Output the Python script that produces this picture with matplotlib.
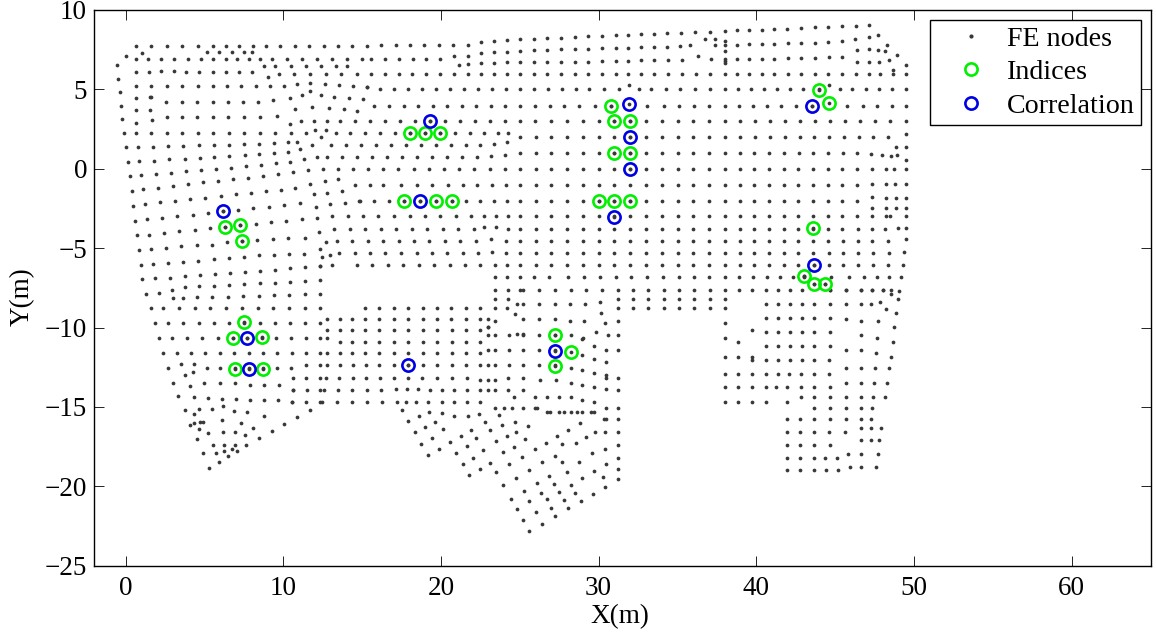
# -*- coding: utf-8 -*-
import matplotlib
matplotlib.use("Agg")
import matplotlib.pyplot as plt
from matplotlib.lines import Line2D

plt.rcParams["font.family"] = ["Liberation Serif", "DejaVu Serif"]
plt.rcParams["font.size"] = 19.5

# x columns that repeat in the regular part of the mesh
mid_cols = [25.02, 26.01, 27.0, 28.0, 29.0, 30.0, 31.0, 32.0]
right_cols = [33.0, 34.0, 35.01, 36.01, 37.0, 37.99, 38.94, 39.87, 40.8, 41.73, 42.66]
south_cols = [41.37, 42.14, 42.9, 43.66]

# rows of the mesh: (y, [x, ...])
rows_top = [
    (7.71, [0.64, 1.62, 2.61, 3.58, 4.58, 5.55, 6.37, 7.22, 8.07, 8.91, 9.82, 10.73, 11.64, 12.57, 13.48, 14.39, 15.3]),
    (7.79, [16.22, 17.13, 18.04, 18.95, 19.88, 20.79, 21.7]),
    (7.33, [5.17, 5.95, 6.75, 7.52, 8.04]),
    (6.93, [0.64, 1.43, 2.25, 3.1, 3.94, 4.77, 5.55, 6.35, 7.07, 7.81, 8.53, 9.29, 10.24, 11.2, 12.15, 13.12, 14.05, 15.02, 15.59, 16.46, 17.32, 18.21, 19.08, 19.96]),
    (7.11, [20.83, 21.7]),
    (6.45, [8.76, 9.48, 10.48, 11.45, 12.42, 13.35, 14.03]),
    (6.07, [0.64, 1.49, 3.84, 4.68, 5.55, 6.37, 7.22, 8.04]),
    (6.16, [2.25, 3.07]),
    (5.99, [9.72, 10.71, 11.7, 12.7, 13.69, 14.68, 15.57, 16.43, 17.32, 18.19, 19.08, 19.94, 20.83, 21.7, 22.52, 23.37, 24.17, 25.02, 25.88, 26.75, 27.62, 28.48, 29.35, 30.22, 31.08, 31.89, 32.69, 33.49, 34.4, 35.31, 36.2, 37.08, 37.99, 38.78, 39.56, 40.34, 41.1, 41.99, 42.85, 43.72, 44.57, 45.43, 46.3, 47.15, 47.86, 48.69, 49.47]),
    (5.23, [0.64, 1.62, 2.61, 3.58, 4.58, 5.55, 6.46, 7.35, 8.26, 9.16, 10.05, 14.41]),
    (5.0, [16.14, 17.0, 17.89, 18.8, 19.69, 20.6, 21.49, 22.37, 23.24, 24.13, 24.99, 25.9, 26.79, 27.66, 28.55, 29.41, 30.32, 31.29, 32.54, 33.34, 34.25, 35.18, 36.11, 37.04, 37.99, 38.84, 39.64, 40.49, 41.31, 42.16, 42.98, 43.95, 45.29, 46.09, 46.93, 47.78, 48.63, 49.47]),
    (4.2, [2.57, 3.58, 4.56, 5.53, 6.48, 7.43, 8.4]),
    (3.97, [15.74, 16.69, 17.64, 18.57, 19.48, 20.41, 21.32, 22.25, 23.16, 24.09, 25.02, 25.95, 26.9, 27.83, 28.78, 29.75, 30.76, 33.09, 34.12, 35.1, 36.05, 37.02, 37.99, 38.9, 39.79, 40.68, 41.59, 42.52, 43.51, 45.77, 46.74, 47.67, 48.58, 49.49]),
    (3.24, [2.65, 3.58, 4.56, 5.55, 6.5, 7.49, 8.53]),
    (2.98, [11.11, 11.94, 12.76, 13.58, 14.53, 15.5, 16.46, 17.41, 18.36, 19.29, 20.26, 21.21, 22.16, 23.11, 24.06, 25.02, 25.99, 27.0, 27.97, 28.99, 30.0, 31.0, 32.0, 33.0, 34.0, 35.01, 36.01, 37.0, 37.99, 38.97, 39.92, 40.87, 41.82, 42.77, 43.72, 44.69, 45.64, 46.6, 47.55, 48.5, 49.47]),
    (2.23, [0.64, 1.64, 2.61, 3.58, 4.58, 5.55, 6.54, 7.51, 8.51, 9.48, 10.48, 11.45, 13.33, 14.26, 15.21, 16.16, 17.09, 18.04, 18.99, 19.94, 20.89, 21.82, 22.75]),
    (2.0, mid_cols + [33.0, 34.0, 35.01, 36.01, 37.0, 37.99, 38.94, 39.9, 40.85, 41.8, 42.75, 43.68, 44.63, 45.56, 46.49, 47.42, 48.37]),
    (1.49, [14.93, 15.88, 16.84, 17.79, 18.72, 19.67, 20.62, 21.57, 22.48, 11.81, 13.05, 14.0]),
    (0.99, mid_cols + [33.0, 34.0, 35.01, 36.01, 37.0, 37.99, 38.94, 39.87, 40.83, 41.76, 42.69, 43.62, 44.55, 45.48, 46.41]),
    (0.76, [12.15, 12.78, 13.73, 14.68, 15.63, 16.58, 17.53, 18.48, 19.44, 20.39, 21.34, 22.27]),
    (-0.02, [12.51, 13.46, 14.43, 15.38, 16.35, 17.3, 18.27, 19.22, 20.2, 21.15, 22.12, 23.09, 24.04] + mid_cols + right_cols + [43.59, 44.52, 45.45, 46.38, 47.31, 48.24, 48.71, 49.49]),
    (-1.0, [14.58, 15.53, 16.35, 17.45, 18.46, 19.46, 20.43, 21.38, 22.29, 23.22, 24.11] + mid_cols + right_cols + [43.59, 44.52, 45.45, 46.38]),
    (-0.93, [47.31, 48.24, 48.77, 49.49]),
    (-2.02, [14.87, 15.78, 16.73, 17.68, 18.7, 19.69, 20.68, 21.61, 22.48, 23.35, 24.17] + mid_cols + right_cols + [43.59, 44.52, 45.45, 46.4]),
    (-3.0, [13.1, 14.09, 15.06, 16.03, 17.03, 18.02, 18.99, 19.96, 20.96, 21.93, 22.71, 23.47, 24.23] + mid_cols + right_cols + [43.59, 44.52, 45.45, 46.38, 47.31, 48.24, 48.5, 49.49]),
    (-3.77, [14.24, 15.21, 16.2, 17.17, 18.17, 19.14, 20.11, 21.11, 22.08, 24.23] + mid_cols + right_cols + [43.59, 44.52, 45.45, 46.42, 47.34]),
    (-4.52, [13.41, 14.39, 15.36, 16.35, 17.32, 18.29, 19.27, 20.26, 21.23, 22.2, 24.11] + mid_cols + right_cols + [43.62, 44.57, 45.52, 46.44, 47.36, 48.37]),
    (-5.29, [13.56, 14.53, 15.5, 16.48, 17.47, 18.46, 19.44, 20.41, 21.38, 22.35, 24.11] + mid_cols + right_cols + [43.62, 44.59, 45.52, 46.44, 47.4, 48.39]),
    (-6.05, [14.68, 15.65, 16.65, 17.62, 18.61, 19.58, 20.56, 21.53, 22.5, 23.43, 24.21] + mid_cols + right_cols + [43.64, 44.59, 45.52, 46.45, 47.38, 48.35, 49.28]),
    (-6.82, [23.43, 24.21, 25.02, 25.88, 26.88, 28.04, 29.07, 30.09, 31.12, 32.05, 33.09, 34.08, 35.08, 36.03, 37.02, 37.99, 38.9, 39.79, 40.66, 41.5, 42.3, 43.0, 44.76, 45.88, 46.83, 47.67, 48.43, 49.17]),
]

rows_lower = [
    (-7.62, [23.45, 24.23, 25.0, 25.21, 26.22, 27.21, 28.23, 29.22, 30.22, 31.23, 32.18, 33.15, 34.12, 35.1, 36.07, 37.04, 37.99, 38.88, 39.75, 40.61, 41.37, 42.14, 42.9, 44.67, 45.67, 46.66, 47.34, 48.01, 48.54]),
    (-8.19, [23.45, 24.23, 31.23, 32.18, 33.15, 34.12, 35.1, 36.07, 37.04, 37.99]),
    (-8.75, [31.23, 32.18, 33.15, 34.12, 35.1, 36.07, 37.04, 37.99]),
    (-8.8, [1.6, 2.4, 3.39, 4.39, 5.38, 6.37, 7.39, 8.38, 9.38, 10.37, 11.36, 12.36, 15.19, 16.1, 17.01, 17.94, 18.84, 19.75, 20.66, 21.59, 22.5, 23.45, 24.19]),
    (-8.5, [24.8, 25.21, 26.22, 27.21, 28.21, 29.14, 40.61, 41.37, 42.14, 42.9, 43.66, 44.67, 45.69, 46.66, 47.27]),
    (-9.38, south_cols + [40.61, 44.67]),
    (-9.49, [12.8, 13.6, 14.39, 15.19, 16.1, 17.01, 17.94, 18.84, 19.75, 20.66, 21.57, 22.48, 22.97, 25.21, 26.22, 27.21, 45.69]),
    (-9.57, [28.21, 29.1, 31.23, 23.45, 46.66, 47.69]),
    (-9.72, [1.85, 2.67, 3.65, 4.64, 5.61, 6.59, 7.54, 8.53, 9.46, 10.43, 11.4, 12.36, 30.43, 37.99]),
    (-10.16, [12.8, 13.6, 14.39, 15.19, 16.1, 17.01, 17.94, 18.84, 19.75, 20.68, 21.59, 22.5, 39.75]),
    (-10.27, south_cols + [40.61, 44.67]),
    (-10.5, [22.99, 23.45, 24.34, 25.21, 26.22, 27.21, 28.23, 30.58, 31.23, 46.66]),
    (-10.68, [2.1, 2.97, 3.92, 4.87, 5.85, 6.8, 7.71, 8.64, 9.55, 10.5, 11.43, 12.36, 12.8, 28.99, 37.99, 47.65]),
    (-10.88, [13.6, 14.39, 15.19, 16.1, 17.01, 17.94, 18.84, 19.75, 20.68, 21.59, 22.5, 38.86, 48.65]),
    (-11.15, south_cols + [40.61, 44.67, 29.69]),
    (-11.44, [22.99, 23.45, 24.34, 25.21, 26.22, 27.21, 31.23, 30.47, 45.67, 46.66]),
    (-11.59, [2.36, 3.25, 4.15, 5.06, 5.99, 6.88, 7.81, 8.72, 9.63, 10.54, 11.45, 12.36, 12.8, 13.6, 14.39, 15.19, 16.1, 17.01, 17.94, 18.84, 19.75, 20.68, 21.59, 47.59, 22.5]),
    (-11.84, [37.99, 38.86, 39.73, 48.52]),
    (-12.03, south_cols + [39.73, 40.61, 44.59]),
    (-12.36, [11.45, 12.36, 12.8, 13.6, 14.41, 15.27, 16.1, 17.01, 17.94, 18.84, 19.75, 20.68, 21.59, 22.5, 22.99, 23.45, 24.34, 25.21, 26.22, 27.21]),
    (-12.56, [2.7, 5.19, 6.01, 6.92, 7.83, 8.74, 9.61, 10.52, 28.23, 45.67, 46.66, 47.53, 48.41]),
    (-12.9, [40.61, 41.35, 42.09, 42.85, 43.66, 44.59, 38.86, 39.73, 37.99]),
    (-13.17, [16.12, 17.01, 17.89, 18.78, 19.73, 20.73, 21.63, 24.26, 25.21, 31.23, 10.62, 11.45, 12.36, 12.72, 13.54, 14.41, 15.27, 30.47]),
    (-13.33, [22.5, 22.99, 23.45, 26.28, 27.3]),
    (-13.5, [28.23, 45.69, 46.66, 47.46, 48.29, 6.01, 6.97, 4.98, 3.03]),
    (-13.59, [7.88, 8.79, 9.71, 28.97]),
    (-13.76, [37.99, 38.86, 39.73, 40.61, 41.25, 41.92, 42.81, 43.66, 44.67, 29.71]),
    (-13.86, [17.13, 17.85, 18.55, 30.47]),
    (-13.96, [10.6, 11.49, 12.36, 12.61, 13.48, 14.39, 15.32, 16.22, 19.29, 20.07, 20.81, 21.66, 22.5, 22.99, 23.45, 24.26, 25.23, 31.23]),
    (-14.36, [42.85, 43.66, 44.69, 45.69, 46.66, 47.42, 48.18, 25.95, 26.73, 27.51, 24.64, 28.23]),
    (-14.56, [7.92, 8.79, 9.69, 28.97]),
    (-14.7, [10.58, 11.47, 12.36, 12.49, 13.44, 14.39, 15.34, 16.27, 17.22, 17.81, 18.4, 19.2, 20.05, 20.85, 21.68, 22.5, 37.99, 38.86, 39.75, 40.61, 41.92, 29.71]),
    (-15.07, [43.66, 44.67, 45.67, 46.66, 47.34, 23.45, 24.0, 24.53, 25.23, 25.97, 26.09, 31.23, 30.47]),
    (-15.35, [26.73, 26.94, 27.47, 27.81, 28.23, 28.65, 28.97, 29.52, 29.73]),
    (-15.75, [30.36, 30.49, 31.23]),
    (-15.79, [41.92, 42.79, 43.66, 44.67, 45.67, 46.66, 47.29]),
    (-16.3, [46.66, 47.29, 47.93]),
    (-16.59, [41.92, 42.79, 43.66, 44.61, 45.62, 31.23, 30.41, 29.75]),
    (-17.1, [46.66, 47.25, 47.8]),
    (-17.39, [41.92, 42.79, 43.66, 44.67, 31.23]),
    (-18.19, [41.92, 42.79, 43.66, 44.36, 45.14]),
    (-17.94, [45.79, 46.66, 47.69]),
    (-18.95, [41.92, 42.79, 43.66, 44.42, 45.16]),
    (-18.8, [45.92, 46.66, 47.59]),
]

# nodes along the curved left part of the mesh
left_x = [-0.54, -0.48, -0.37, -0.29, -0.2, -0.12, 0.01, 0.14, 0.26, 0.39, 0.5, 0.62, 0.73, 0.86, 0.96, 1.07, 1.05, 0.03,
          0.64, 1.57, 0.64, 1.56, 0.64, 1.68, 0.77, 1.74, 2.7, 3.67, 4.64, 5.59, 6.54, 7.51, 8.47, 9.42, 10.28, 10.9, 11.07,
          0.88, 1.83, 2.78, 3.75, 4.7, 5.63, 6.59, 7.56, 8.49, 9.42, 10.28, 10.43, 11.3,
          0.98, 1.93, 2.89, 3.84, 4.79, 5.74, 6.69, 7.64, 8.59, 9.52, 9.65, 10.6, 11.55,
          1.11, 2.06, 3.01, 3.94, 4.92, 5.87, 6.82, 7.77, 8.72, 8.89, 9.84, 10.77, 11.68, 12.65, 13.48,
          1.24, 2.19, 3.14, 4.11, 5.06, 6.04, 6.99, 7.94, 11.93, 12.8, 13.73, 14.83,
          1.34, 2.32, 3.29, 4.26, 5.21, 6.18, 7.14, 8.11, 9.08, 10.05, 11.07, 12.1, 12.97, 13.94,
          1.47, 2.44, 3.41, 4.39, 5.36, 6.31, 7.28, 8.26, 9.23, 10.2, 11.17, 12.15, 12.27, 13.25,
          1.6, 2.57, 3.54, 4.53, 5.49, 6.44, 7.41, 8.36, 9.33, 10.33, 11.38, 12.36, 12.7,
          1.72, 2.67, 3.65, 4.62, 5.59, 6.54, 7.49, 8.45, 9.4, 10.37, 11.34, 12.48, 12.99,
          1.85, 2.8, 3.75, 4.7, 5.66, 6.61, 7.56, 8.53, 9.48, 10.45, 11.4, 12.36, 13.1,
          2.93, 3.77, 4.66, 5.59, 6.56, 7.51, 8.51, 9.46, 10.43, 11.38, 12.36,
          1.32, 2.12, 3.03, 3.65, 4.56, 5.51, 6.48, 7.45, 8.45, 9.42, 10.39, 11.38, 12.36]
left_y = [6.51, 5.65, 4.81, 3.95, 3.11, 2.25, 1.34, 0.44, -0.46, -1.39, -2.33, -3.26, -4.18, -5.1, -6.07, -6.95, 7.31, 7.12,
          4.45, 4.5, 3.68, 3.72, 2.88, 3.05, 1.37, 1.39, 1.43, 1.45, 1.47, 1.49, 1.51, 1.55, 1.58, 1.62, 1.66, 1.7, 1.24,
          0.48, 0.52, 0.59, 0.63, 0.69, 0.76, 0.82, 0.88, 0.92, 0.99, 1.07, 0.44, 0.59,
          -0.42, -0.31, -0.25, -0.17, -0.08, 0.0, 0.08, 0.17, 0.25, 0.34, -0.31, -0.23, -0.1,
          -1.3, -1.2, -1.07, -0.97, -0.86, -0.76, -0.65, -0.55, -0.44, -1.41, -1.32, -1.18, -0.95, -0.78, -0.65,
          -2.25, -2.12, -2.04, -1.93, -1.83, -1.72, -1.62, -1.51, -1.62, -1.51, -1.41, -2.06,
          -3.19, -3.09, -2.98, -2.9, -2.79, -2.69, -2.6, -2.5, -2.39, -2.29, -2.18, -2.39, -2.25, -2.16,
          -4.14, -4.03, -3.93, -3.84, -3.76, -3.68, -3.57, -3.49, -3.38, -3.28, -3.19, -3.11, -3.97, -3.78,
          -5.06, -4.98, -4.89, -4.83, -4.77, -4.64, -4.56, -4.47, -4.41, -4.35, -4.37, -5.04, -4.62,
          -6.0, -5.92, -5.86, -5.78, -5.71, -5.61, -5.53, -5.46, -5.4, -5.34, -5.34, -5.55, -5.4,
          -6.91, -6.85, -6.78, -6.72, -6.64, -6.58, -6.49, -6.43, -6.37, -6.28, -6.2, -6.13, -6.09,
          -7.62, -7.47, -7.41, -7.37, -7.33, -7.28, -7.22, -7.18, -7.12, -7.05, -7.01,
          -7.91, -7.85, -8.14, -8.14, -8.1, -8.08, -8.06, -8.02, -8.0, -7.98, -7.96, -7.91, -7.89]

# nodes that follow the sloped top edge
slope_x = [22.54, 23.37, 24.17, 25.02, 25.88, 26.75, 27.62, 28.48, 29.35, 30.22, 31.08, 31.89,
           22.54, 23.37, 24.19, 25.02, 25.88, 26.75, 27.62, 28.48, 29.35, 30.22, 31.08, 31.89,
           21.15, 21.7, 22.54, 23.37, 24.19, 25.02, 25.88, 26.75, 27.62, 28.48, 29.35, 30.22, 31.08, 31.89,
           32.69, 33.49, 34.36, 35.22, 36.09, 37.04, 37.99, 38.78, 39.54, 40.34, 41.1, 41.97, 42.83, 43.7, 44.57, 45.43, 46.3, 47.17,
           32.69, 33.49, 34.36, 35.18, 35.79, 36.72, 37.36, 37.36, 37.99, 37.99, 37.99, 38.78, 39.56, 40.34, 41.1, 41.99, 42.85, 43.7, 44.57, 45.41, 46.26, 47.15, 47.74, 48.31, 46.36, 47.15, 47.69, 48.14, 48.9,
           32.69, 33.49, 34.38, 35.29, 36.3, 37.13, 37.99, 37.99, 37.99, 38.78, 39.56, 40.34, 41.1, 41.99, 42.85, 43.72, 44.59, 45.45, 46.36, 47.15, 47.76, 48.41, 49.47, 48.69]
slope_y = [7.96, 8.03, 8.09, 8.15, 8.19, 8.24, 8.26, 8.3, 8.34, 8.36, 8.4, 8.42,
           7.29, 7.33, 7.37, 7.44, 7.46, 7.5, 7.52, 7.54, 7.56, 7.58, 7.61, 7.63,
           6.55, 6.58, 6.64, 6.66, 6.7, 6.72, 6.72, 6.72, 6.74, 6.74, 6.74, 6.76, 6.78, 6.78,
           8.47, 8.49, 8.53, 8.55, 8.59, 8.63, 8.68, 8.72, 8.74, 8.76, 8.78, 8.82, 8.87, 8.91, 8.93, 8.97, 9.01, 9.03,
           7.65, 7.67, 7.67, 7.71, 7.82, 8.19, 8.19, 7.82, 8.05, 7.79, 7.42, 7.82, 7.84, 7.86, 7.88, 7.9, 7.92, 7.94, 7.98, 8.07, 8.19, 8.28, 8.4, 7.79, 7.5, 7.52, 7.5, 7.39, 7.14,
           6.83, 6.83, 6.83, 6.85, 7.1, 6.91, 6.93, 6.79, 6.66, 6.89, 6.91, 6.93, 6.93, 6.95, 6.95, 6.97, 7.02, 7.06, 6.7, 6.74, 6.72, 6.83, 6.51, 6.24]

# scattered nodes in the upper middle and on the east edge
loose_x = [15.31, 10.86, 11.72, 12.63, 13.52, 15.32, 11.72, 12.38, 11.18, 10.41, 13.22, 14.15, 15.04, 1.62, 9.38,
           10.75, 11.85, 12.91, 13.86, 14.68, 9.63, 10.41, 12.04, 12.7, 12.38, 23.62, 24.23, 24.17, 23.35, 23.18, 24.09,
           9.02, 31.91, 44.59, 22.73, 23.51, 23.18, 23.26, 12.36, 47.97, 48.56, 48.92, 48.84, 49.47, 49.47, 47.25,
           49.47, 47.36, 48.24, 48.86, 49.49, 47.36, 48.24, 48.86, 49.49, 48.18, 48.98, 49.49, 49.47, 49.37,
           43.0, 43.64, 44.33, 44.67, 45.67, 46.66, 47.34, 48.01, 49.07, 48.52, 49.01, 47.82, 48.24, 48.88, 48.75]
loose_y = [5.13, 5.34, 5.42, 5.34, 5.29, 5.15, 4.9, 4.66, 4.62, 4.47, 4.54, 4.47, 4.41, 4.5, 4.31,
           3.76, 3.91, 3.8, 3.76, 3.66, 3.32, 2.82, 2.44, 2.44, 1.97, 2.27, 2.27, 1.7, 1.55, 0.82, 0.88,
           5.78, 5.25, 5.29, -3.68, -3.68, -4.45, -5.23, -6.13, 0.88, 0.78, 0.88, 1.39, 1.39, 0.57, 0.95,
           2.18, -1.79, -1.87, -1.87, -1.87, -2.44, -2.44, -2.44, -2.44, -3.82, -3.72, -3.72, -4.43, -5.23,
           -6.77, -7.26, -7.24, -7.62, -7.62, -7.62, -7.62, -7.62, -7.72, -7.91, -8.23, -8.4, -8.84, -9.11, -9.99]

# nodes of the southern fan
fan_x = [3.52, 4.32, 3.79, 4.28, 4.07, 3.35, 4.34, 5.23, 6.12, 7.01, 10.6, 10.58,
         3.75, 4.64, 5.51, 6.16, 6.88, 7.73, 11.7, 4.34, 8.76, 10.88, 4.11, 4.32, 4.71, 4.94, 6.12, 7.3, 10.07, 8.11, 4.68,
         5.23, 6.19, 6.95, 7.58, 9.27, 8.47, 4.51, 5.53, 6.25, 6.95, 7.66, 6.76, 7.1, 6.25, 4.89, 5.74, 6.5, 5.93, 5.27,
         17.51, 19.27, 20.07, 18.59, 20.85, 21.72, 22.4, 23.66, 17.94, 19.65, 22.8, 24.68, 19.01, 20.13, 21.93, 23.09,
         23.88, 25.55, 28.8, 28.08, 24.74, 18.36, 19.46, 21.25, 22.23, 24.17, 25.33, 27.36, 29.18, 18.74, 20.58, 21.63,
         23.49, 24.66, 26.67, 27.68, 28.59, 30.41, 19.18, 19.88, 20.98, 22.67, 23.92, 25.95, 29.56, 31.23, 22.06, 25.14,
         27.21, 21.38, 23.13, 24.32, 26.41, 27.68, 28.76, 30.47, 31.23, 22.46, 23.47, 21.76, 25.59, 28.02, 29.73, 26.88,
         24.76, 28.97, 30.28, 31.23, 23.94, 26.07, 27.17, 28.23, 30.43, 25.25, 26.35, 27.47, 28.53, 29.65, 24.45, 25.59,
         26.73, 27.79, 28.86, 24.83, 26.05, 26.96, 28.08, 25.23, 27.26, 26.43, 25.61,
         30.11, 24.68, 30.17, 24.8, 25.21, 22.99, 22.99, 29.84, 28.97, 28.95, 29.71, 30.49, 28.97, 29.73, 30.47]
fan_y = [-12.3, -12.28, -13.0, -12.83, -13.69, -14.32, -14.4, -14.45, -14.49, -14.51, -13.92, -14.68,
         -15.22, -15.16, -15.12, -14.97, -15.27, -15.33, -15.2, -15.46, -15.6, -15.64, -16.11, -16.02, -15.96, -15.92, -15.81, -16.0, -16.09, -16.3, -16.4,
         -16.65, -16.59, -16.61, -16.76, -16.53, -16.97, -17.03, -17.41, -17.41, -17.41, -17.41, -17.66, -17.75, -17.79, -17.91, -17.91, -18.08, -18.44, -18.82,
         -15.18, -15.35, -15.37, -15.58, -15.6, -15.6, -15.43, -15.48, -15.9, -15.94, -15.94, -15.94, -16.27, -16.4, -16.44, -16.44,
         -16.15, -16.19, -16.02, -16.44, -16.61, -16.61, -16.95, -16.82, -16.95, -16.86, -16.99, -16.82, -16.88, -17.33, -17.24, -17.49,
         -17.16, -17.51, -17.26, -17.33, -17.3, -17.64, -18.04, -17.64, -17.91, -17.72, -17.87, -17.66, -17.91, -18.19, -18.19, -18.14,
         -18.1, -18.61, -18.52, -18.61, -18.5, -18.46, -18.46, -18.61, -18.88, -18.92, -19.11, -19.3, -18.98, -19.07, -19.05, -19.34,
         -19.45, -19.49, -19.4, -19.57, -19.93, -19.8, -19.85, -19.91, -20.04, -20.29, -20.39, -20.35, -20.43, -20.48, -20.77, -20.94,
         -20.81, -20.88, -20.92, -21.44, -21.59, -21.36, -21.38, -22.12, -21.86, -22.35, -22.81,
         -8.4, -9.17, -9.07, -10.39, -10.41, -9.99, -9.99, -10.25, -10.71, -11.76, -11.99, -12.14, -12.68, -12.87, -13.02]

indices_x = [30.76, 31.0, 32.01, 31.0, 32.0, 30.0, 31.0, 32.0, 18.04, 18.99, 19.94, 17.68, 19.69, 20.68,
             6.31, 7.28, 7.41, 7.54, 6.8, 8.64, 6.92, 8.74, 27.21, 28.23, 27.21, 43.95, 44.63, 43.59, 43.0, 43.64, 44.33]
indices_y = [3.95, 2.98, 2.98, 1.0, 1.0, -2.02, -2.02, -2.02, 2.23, 2.23, 2.23, -2.02, -2.02, -2.02,
             -3.68, -3.57, -4.56, -9.68, -10.65, -10.6, -12.58, -12.58, -10.5, -11.53, -12.43, 4.98, 4.14, -3.74, -6.77, -7.26, -7.24]

correlation_x = [19.29, 18.7, 31.95, 32.0, 32.0, 31.0, 6.18, 7.71, 7.83, 17.94, 27.21, 43.51, 43.64]
correlation_y = [2.98, -2.02, 4.09, 1.98, -0.02, -3.02, -2.69, -10.65, -12.58, -12.35, -11.46, 3.97, -6.05]

node_x = left_x + slope_x + loose_x + fan_x + correlation_x + indices_x
node_y = left_y + slope_y + loose_y + fan_y + correlation_y + indices_y
for y0, xs in rows_top + rows_lower:
    node_x += xs
    node_y += [y0] * len(xs)

GREEN = "#00f000"
BLUE = "#0000e6"
DOT = "#383838"

fig = plt.figure(figsize=(11.56, 6.34), dpi=100)
ax = fig.add_axes([94 / 1156, 1 - 565.7 / 634, (1150.5 - 94) / 1156, (565.7 - 10) / 634])

ax.plot(node_x, node_y, ls="none", marker="o", ms=2.7, mfc=DOT, mec="none", label="FE nodes")
ax.plot(indices_x, indices_y, ls="none", marker="o", ms=8.8, mfc="none", mec=GREEN, mew=1.9, label="Indices")
ax.plot(correlation_x, correlation_y, ls="none", marker="o", ms=8.8, mfc="none", mec=BLUE, mew=1.9, label="Correlation")

ax.set_xlim(-2, 65)
ax.set_ylim(-25, 10)
ax.set_xticks(range(0, 61, 10))
ax.set_yticks(range(-25, 11, 5))
ax.tick_params(direction="in", length=7.5, width=0.6, top=True, right=True, pad=5)
ax.tick_params(axis="x", pad=7.5)
for s in ax.spines.values():
    s.set_linewidth(1.0)

ax.set_xlabel("X(m)")
ax.set_ylabel("Y(m)")
ax.xaxis.set_label_coords((620 - 94) / (1150.5 - 94), -(617 - 565.7) / 555.7)
ax.xaxis.label.set_verticalalignment("center")
ax.yaxis.set_label_coords((22 - 94) / (1150.5 - 94), (565.7 - 297) / 555.7)
ax.yaxis.label.set_verticalalignment("center")

handles = [
    Line2D([], [], ls="none", marker="o", ms=3.0, mfc=DOT, mec="none"),
    Line2D([], [], ls="none", marker="o", ms=8.8, mfc="none", mec=GREEN, mew=1.9),
    Line2D([], [], ls="none", marker="o", ms=8.8, mfc="none", mec=BLUE, mew=1.9),
]
leg = ax.legend(handles, ["FE nodes", "Indices", "Correlation"], loc="upper right",
                bbox_to_anchor=(1140.7 / 1156, 1 - 20 / 634), bbox_transform=fig.transFigure,
                frameon=True, fancybox=False, framealpha=1, edgecolor="black",
                borderaxespad=0, borderpad=0.22, labelspacing=0.28, handlelength=2.53, handletextpad=0.0,
                fontsize=20.2)
leg.get_frame().set_linewidth(1.0)

fig.savefig("out.png", dpi=100)
